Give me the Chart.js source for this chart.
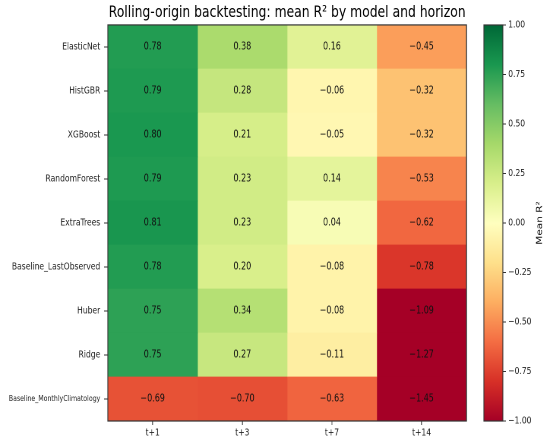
<!DOCTYPE html>
<html>
<head>
<meta charset="utf-8">
<script src="https://cdn.jsdelivr.net/npm/chart.js@4.4.1/dist/chart.umd.min.js"></script>
<style>
  html, body { margin: 0; padding: 0; background: #fff; overflow: hidden; }
  #work { position: absolute; left: -3000px; top: 0; width: 724px; height: 441px; }
  #heat { position: absolute; left: 0; top: 0; }
  #cbar { position: absolute; left: 620px; top: 0; }
  #out { display: block; width: 550px; height: 441px; }
</style>
</head>
<body>
<canvas id="out" width="550" height="441"></canvas>
<div id="work">
  <canvas id="heat" width="724" height="441"></canvas>
  <canvas id="cbar" width="104" height="441"></canvas>
</div>
<script>
const models = ["ElasticNet", "HistGBR", "XGBoost", "RandomForest", "ExtraTrees",
  "Baseline_LastObserved", "Huber", "Ridge", "Baseline_MonthlyClimatology"];
const horizons = ["t+1", "t+3", "t+7", "t+14"];

// mean R² per horizon, in model order
const r2T1 = [0.78, 0.79, 0.80, 0.79, 0.81, 0.78, 0.75, 0.75, -0.69];
const r2T3 = [0.38, 0.28, 0.21, 0.23, 0.23, 0.20, 0.34, 0.27, -0.70];
const r2T7 = [0.16, -0.06, -0.05, 0.14, 0.04, -0.08, -0.08, -0.11, -0.63];
const r2T14 = [-0.45, -0.32, -0.32, -0.53, -0.62, -0.78, -1.09, -1.27, -1.45];

const cbarTicks = [-1, -0.75, -0.5, -0.25, 0, 0.25, 0.5, 0.75, 1];

// matplotlib RdYlGn
const rdylgn = ["#a50026", "#d73027", "#f46d43", "#fdae61", "#fee08b", "#ffffbf",
  "#d9ef8b", "#a6d96a", "#66bd63", "#1a9850", "#006837"];

const FONT = "'DejaVu Sans', sans-serif";
// the reference is squeezed horizontally, so draw wide and shrink at the end
const SQUEEZE = 550 / 724;

function hexToRgb(h) {
  return [1, 3, 5].map(i => parseInt(h.substr(i, 2), 16));
}

function colorFor(v) {
  let t = (Math.max(-1, Math.min(1, v)) + 1) / 2 * 10;
  let k = Math.min(9, Math.floor(t));
  let f = t - k;
  let a = hexToRgb(rdylgn[k]), b = hexToRgb(rdylgn[k + 1]);
  let c = a.map((x, i) => Math.round(x + (b[i] - x) * f));
  return "rgb(" + c.join(",") + ")";
}

function fmt(v) {
  return v.toFixed(2).replace("-", "\u2212");
}

const frame = {
  id: "frame",
  afterDraw(chart) {
    const a = chart.chartArea, ctx = chart.ctx;
    ctx.save();
    ctx.strokeStyle = "#333";
    ctx.lineWidth = 1.2;
    ctx.strokeRect(a.left, a.top, a.right - a.left, a.bottom - a.top);
    ctx.restore();
  }
};

const cellText = {
  id: "cellText",
  afterDatasetsDraw(chart) {
    const ctx = chart.ctx;
    ctx.save();
    ctx.font = "10.5px " + FONT;
    ctx.fillStyle = "#111";
    ctx.textAlign = "center";
    ctx.textBaseline = "middle";
    chart.data.datasets.forEach((ds, j) => {
      chart.getDatasetMeta(j).data.forEach((bar, i) => {
        const p = bar.getCenterPoint();
        ctx.fillText(fmt(ds.values[i]), p.x, p.y);
      });
    });
    ctx.restore();
  }
};

const columns = [r2T1, r2T3, r2T7, r2T14];

const heat = new Chart(document.getElementById("heat"), {
  type: "bar",
  data: {
    labels: models,
    datasets: columns.map((vals, j) => ({
      label: horizons[j],
      values: vals,
      data: vals.map(() => [j - 0.5, j + 0.5]),
      backgroundColor: vals.map(colorFor),
      borderWidth: 0,
      barPercentage: 1,
      categoryPercentage: 1,
      grouped: false
    }))
  },
  options: {
    indexAxis: "y",
    responsive: false,
    animation: false,
    devicePixelRatio: 2,
    layout: { padding: { left: 0, right: 110, top: 0, bottom: 0 } },
    plugins: {
      legend: { display: false },
      tooltip: { enabled: false },
      title: {
        display: true,
        fullSize: false,
        text: "Rolling-origin backtesting: mean R\u00b2 by model and horizon",
        color: "#000",
        font: { family: FONT, size: 16.3, weight: "normal", lineHeight: 1.1 },
        padding: { top: 4, bottom: 3 }
      }
    },
    scales: {
      x: {
        type: "linear",
        min: -0.5,
        max: 3.5,
        afterBuildTicks: s => { s.ticks = horizons.map((h, i) => ({ value: i })); },
        afterFit: s => { s.height = 20; },
        ticks: {
          callback: v => horizons[v],
          color: "#222",
          font: { family: FONT, size: 10 },
          padding: 2,
          maxRotation: 0
        },
        grid: { drawOnChartArea: false, drawTicks: true, tickLength: 4, color: "#333" },
        border: { display: false }
      },
      y: {
        type: "category",
        offset: true,
        afterFit: s => { s.width = 142; },
        ticks: {
          color: "#222",
          font: ctx => ({ family: FONT, size: ctx.index === 8 ? 8.2 : 10 }),
          padding: 5
        },
        grid: { offset: false, drawOnChartArea: false, drawTicks: true, tickLength: 5, color: "#333" },
        border: { display: false }
      }
    }
  },
  plugins: [cellText, frame]
});

const cbarLabel = {
  id: "cbarLabel",
  afterDraw(chart) {
    const a = chart.chartArea, ctx = chart.ctx;
    ctx.save();
    ctx.translate(91, (a.top + a.bottom) / 2);
    ctx.rotate(-Math.PI / 2);
    ctx.font = "10.5px " + FONT;
    ctx.fillStyle = "#111";
    ctx.textAlign = "center";
    ctx.textBaseline = "middle";
    ctx.fillText("Mean R\u00b2", 0, 0);
    ctx.restore();
  }
};

const cbar = new Chart(document.getElementById("cbar"), {
  type: "bar",
  data: {
    labels: ["Mean R\u00b2"],
    datasets: [{
      data: [[cbarTicks[0], cbarTicks[cbarTicks.length - 1]]],
      backgroundColor: ctx => {
        const a = ctx.chart.chartArea;
        if (!a) return null;
        const g = ctx.chart.ctx.createLinearGradient(0, a.bottom, 0, a.top);
        rdylgn.forEach((c, k) => g.addColorStop(k / (rdylgn.length - 1), c));
        return g;
      },
      borderWidth: 0,
      barPercentage: 1,
      categoryPercentage: 1
    }]
  },
  options: {
    responsive: false,
    animation: false,
    devicePixelRatio: 2,
    layout: { padding: { left: 17, right: 0, top: 25, bottom: 20 } },
    plugins: { legend: { display: false }, tooltip: { enabled: false } },
    scales: {
      x: { display: false },
      y: {
        type: "linear",
        position: "right",
        min: -1,
        max: 1,
        afterBuildTicks: s => { s.ticks = cbarTicks.map(v => ({ value: v })); },
        afterFit: s => { s.width = 62; },
        ticks: {
          callback: v => fmt(v),
          color: "#222",
          font: { family: FONT, size: 10 },
          padding: 3
        },
        grid: { drawOnChartArea: false, drawTicks: true, tickLength: 4, color: "#333" },
        border: { display: false }
      }
    }
  },
  plugins: [frame, cbarLabel]
});

// copy both charts onto the visible canvas, squeezed horizontally
const out = document.getElementById("out").getContext("2d");
out.fillStyle = "#fff";
out.fillRect(0, 0, 550, 441);
out.imageSmoothingEnabled = true;
out.imageSmoothingQuality = "high";
out.drawImage(heat.canvas, 0, 0, 724 * SQUEEZE, 441);
out.drawImage(cbar.canvas, 620 * SQUEEZE, 0, 104 * SQUEEZE, 441);
</script>
</body>
</html>
